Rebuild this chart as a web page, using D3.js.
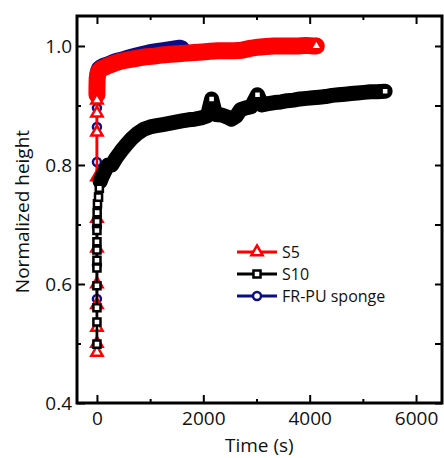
<!DOCTYPE html>
<html>
<head>
<meta charset="utf-8">
<script src="https://cdn.jsdelivr.net/npm/d3@7"></script>
<style>
  body { margin: 0; background: #fff; }
  svg text { font-family: "Open Sans", sans-serif; fill: #111; }
</style>
</head>
<body>
<svg width="444" height="458"></svg>
<script>
// values

// near-vertical drop at t = 0 (open markers, thin line)
var s5DropTime = [0, 0, 0, 0, 0, 0, 0, 0, 0, 0, 0];
var s5DropHeight = [0.485, 0.50, 0.527, 0.565, 0.60, 0.66, 0.71, 0.78, 0.855, 0.887, 0.909];
var s10DropTime = [0, 0, 0, 0, 0, 0, 0, 0, 0, 2, 4, 10, 30, 45];
var s10DropHeight = [0.499, 0.536, 0.56, 0.597, 0.627, 0.64, 0.657, 0.671, 0.69, 0.705, 0.72, 0.735, 0.746, 0.761];
var puDropTime = [0, 0, 0, 0, 0, 0];
var puDropHeight = [0.575, 0.632, 0.696, 0.805, 0.864, 0.896];

// dense recovery traces (markers overlap into a solid band)
var s5Time = [0, 0, 2, 5, 15, 40, 90, 160, 240, 330, 430, 540, 660, 790, 930, 1080, 1230, 1380, 1530, 1680,
  1830, 1980, 2130, 2280, 2430, 2580, 2730, 2880, 3030, 3180, 3330, 3480, 3630, 3780, 3930, 4080, 4125];
var s5Height = [0.918, 0.928, 0.938, 0.946, 0.953, 0.958, 0.962, 0.965, 0.968, 0.971, 0.974, 0.976, 0.978, 0.980, 0.982, 0.983, 0.985, 0.986, 0.987, 0.988,
  0.989, 0.990, 0.991, 0.992, 0.992, 0.992, 0.993, 0.996, 0.998, 0.999, 1.0, 1.0, 1.0, 1.0, 1.001, 1.0, 1.0];

var s10Time = [60, 100, 150, 210, 280, 360, 450, 550, 650, 760, 880, 1000, 1120, 1240, 1360, 1480, 1600, 1720, 1840, 1960,
  2080, 2156, 2230, 2344, 2440, 2531, 2620, 2700, 2800, 2900, 3019, 3100, 3220, 3340, 3460, 3580, 3700, 3820, 3940,
  4060, 4180, 4300, 4420, 4540, 4660, 4780, 4900, 5020, 5140, 5260, 5419];
var s10Height = [0.772, 0.781, 0.79, 0.80, 0.80, 0.812, 0.823, 0.834, 0.844, 0.853, 0.86, 0.864, 0.866, 0.868, 0.870, 0.872, 0.874, 0.876, 0.877, 0.879,
  0.883, 0.911, 0.885, 0.884, 0.881, 0.877, 0.882, 0.893, 0.896, 0.898, 0.918, 0.901, 0.903, 0.905, 0.906, 0.908, 0.909, 0.911, 0.912,
  0.913, 0.914, 0.915, 0.917, 0.918, 0.919, 0.920, 0.921, 0.922, 0.923, 0.923, 0.924];

var puTime = [0, 0, 2, 5, 12, 30, 70, 130, 200, 280, 370, 470, 580, 700, 830, 970, 1110, 1250, 1400, 1550, 1600];
var puHeight = [0.918, 0.93, 0.942, 0.952, 0.958, 0.962, 0.965, 0.968, 0.970, 0.973, 0.976, 0.978, 0.981, 0.984, 0.987, 0.990, 0.992, 0.994, 0.996, 0.998, 0.997];

var xTicks = [0, 2000, 4000, 6000];
var xMinor = [1000, 3000, 5000];
var yTicks = [0.4, 0.6, 0.8, 1.0];
var yMinor = [0.5, 0.7, 0.9];

var svg = d3.select("svg"),
    margin = {top: 16, right: 2, bottom: 55, left: 77},
    width = +svg.attr("width") - margin.left - margin.right,
    height = +svg.attr("height") - margin.top - margin.bottom;

var x = d3.scaleLinear().domain([-375, 6488]).range([0, width]),
    y = d3.scaleLinear().domain([0.4, 1.0504]).range([height, 0]);

var g = svg.append("g").attr("transform", "translate(" + margin.left + "," + margin.top + ")");

function zip(t, v) { return t.map(function(d, i) { return [d, v[i]]; }); }

var series = [
  {name: "FR-PU sponge", color: "#0d0d85", shape: d3.symbolCircle, size: 50, band: 15, drop: zip(puDropTime, puDropHeight), trace: zip(puTime, puHeight)},
  {name: "S5", color: "#ff0000", shape: d3.symbolTriangle, size: 55, band: 17, drop: zip(s5DropTime, s5DropHeight), trace: zip(s5Time, s5Height)},
  {name: "S10", color: "#000000", shape: d3.symbolSquare, size: 50, band: 15, drop: zip(s10DropTime, s10DropHeight), trace: zip(s10Time, s10Height)}
];

var line = d3.line().x(function(d) { return x(d[0]); }).y(function(d) { return y(d[1]); });

// axes: inward ticks on all four sides
function addAxis(axis, tr, cls) {
  var a = g.append("g").attr("class", cls).attr("transform", tr).call(axis);
  a.select(".domain").remove();
  a.selectAll("line").attr("stroke", "#000").attr("stroke-width", 2);
  a.selectAll("text").style("font-size", "19px").attr("fill", "#111");
  return a;
}
addAxis(d3.axisBottom(x).tickValues(xTicks).tickSize(-8).tickPadding(9).tickFormat(d3.format("d")), "translate(0," + height + ")", "xb");
addAxis(d3.axisBottom(x).tickValues(xMinor).tickSize(-4).tickFormat(""), "translate(0," + height + ")", "xbm");
addAxis(d3.axisTop(x).tickValues(xTicks).tickSize(-8).tickFormat(""), null, "xt");
addAxis(d3.axisTop(x).tickValues(xMinor).tickSize(-4).tickFormat(""), null, "xtm");
addAxis(d3.axisLeft(y).tickValues(yTicks).tickSize(-8).tickPadding(5).tickFormat(d3.format(".1f")), null, "yl");
addAxis(d3.axisLeft(y).tickValues(yMinor).tickSize(-4).tickFormat(""), null, "ylm");
addAxis(d3.axisRight(y).tickValues(yTicks).tickSize(-7).tickFormat(""), "translate(" + width + ",0)", "yr");
addAxis(d3.axisRight(y).tickValues(yMinor).tickSize(-7).tickFormat(""), "translate(" + width + ",0)", "yrm");

g.append("rect")
    .attr("width", width).attr("height", height)
    .attr("fill", "none").attr("stroke", "#000").attr("stroke-width", 3);

// data
series.forEach(function(s) {
  var layer = g.append("g").attr("class", "series");
  var all = s.drop.concat(s.trace);
  layer.append("path").datum(all)
      .attr("fill", "none").attr("stroke", s.color).attr("stroke-width", 2.5)
      .attr("d", line);
  layer.append("path").datum(s.trace)
      .attr("fill", "none").attr("stroke", s.color).attr("stroke-width", s.band)
      .attr("stroke-linecap", "round").attr("stroke-linejoin", "round")
      .attr("d", line);
  var open = s.drop.concat([s.trace[s.trace.length - 1]]);
  layer.selectAll(".pt").data(open).enter().append("path")
      .attr("class", "pt")
      .attr("transform", function(d) { return "translate(" + x(d[0]) + "," + y(d[1]) + ")"; })
      .attr("d", d3.symbol().type(s.shape).size(s.size))
      .attr("fill", "#fff").attr("stroke", s.color).attr("stroke-width", 2.5);
});

// outlier squares sitting above the S10 band
var s10 = series[2];
g.selectAll(".spike").data(s10.trace.filter(function(d, i, a) {
    return i > 0 && i < a.length - 1 && d[1] - a[i - 1][1] > 0.015 && d[1] - a[i + 1][1] > 0.015;
  })).enter().append("path")
    .attr("class", "spike")
    .attr("transform", function(d) { return "translate(" + x(d[0]) + "," + y(d[1]) + ")"; })
    .attr("d", d3.symbol().type(d3.symbolSquare).size(50))
    .attr("fill", "#fff").attr("stroke", "#000").attr("stroke-width", 2.5);

// legend
var legendOrder = [series[1], series[2], series[0]];
var leg = svg.append("g").attr("transform", "translate(237,252)");
legendOrder.forEach(function(s, i) {
  var row = leg.append("g").attr("transform", "translate(0," + (i * 22) + ")");
  row.append("line").attr("x1", 0).attr("x2", 40)
      .attr("stroke", s.color).attr("stroke-width", 3);
  row.append("path").attr("transform", "translate(20,0)")
      .attr("d", d3.symbol().type(s.shape).size(s.size))
      .attr("fill", "#fff").attr("stroke", s.color).attr("stroke-width", 2.5);
  row.append("text").attr("x", 45).attr("dy", "0.35em")
      .style("font-size", "16px").text(s.name);
});

// axis titles
svg.append("text")
    .attr("x", margin.left + x(2000) + 56).attr("y", 452)
    .attr("text-anchor", "middle").style("font-size", "19px")
    .text("Time (s)");
svg.append("text")
    .attr("transform", "translate(29," + (margin.top + height / 2 + 2) + ") rotate(-90)")
    .attr("text-anchor", "middle").style("font-size", "19px")
    .text("Normalized height");
</script>
</body>
</html>
